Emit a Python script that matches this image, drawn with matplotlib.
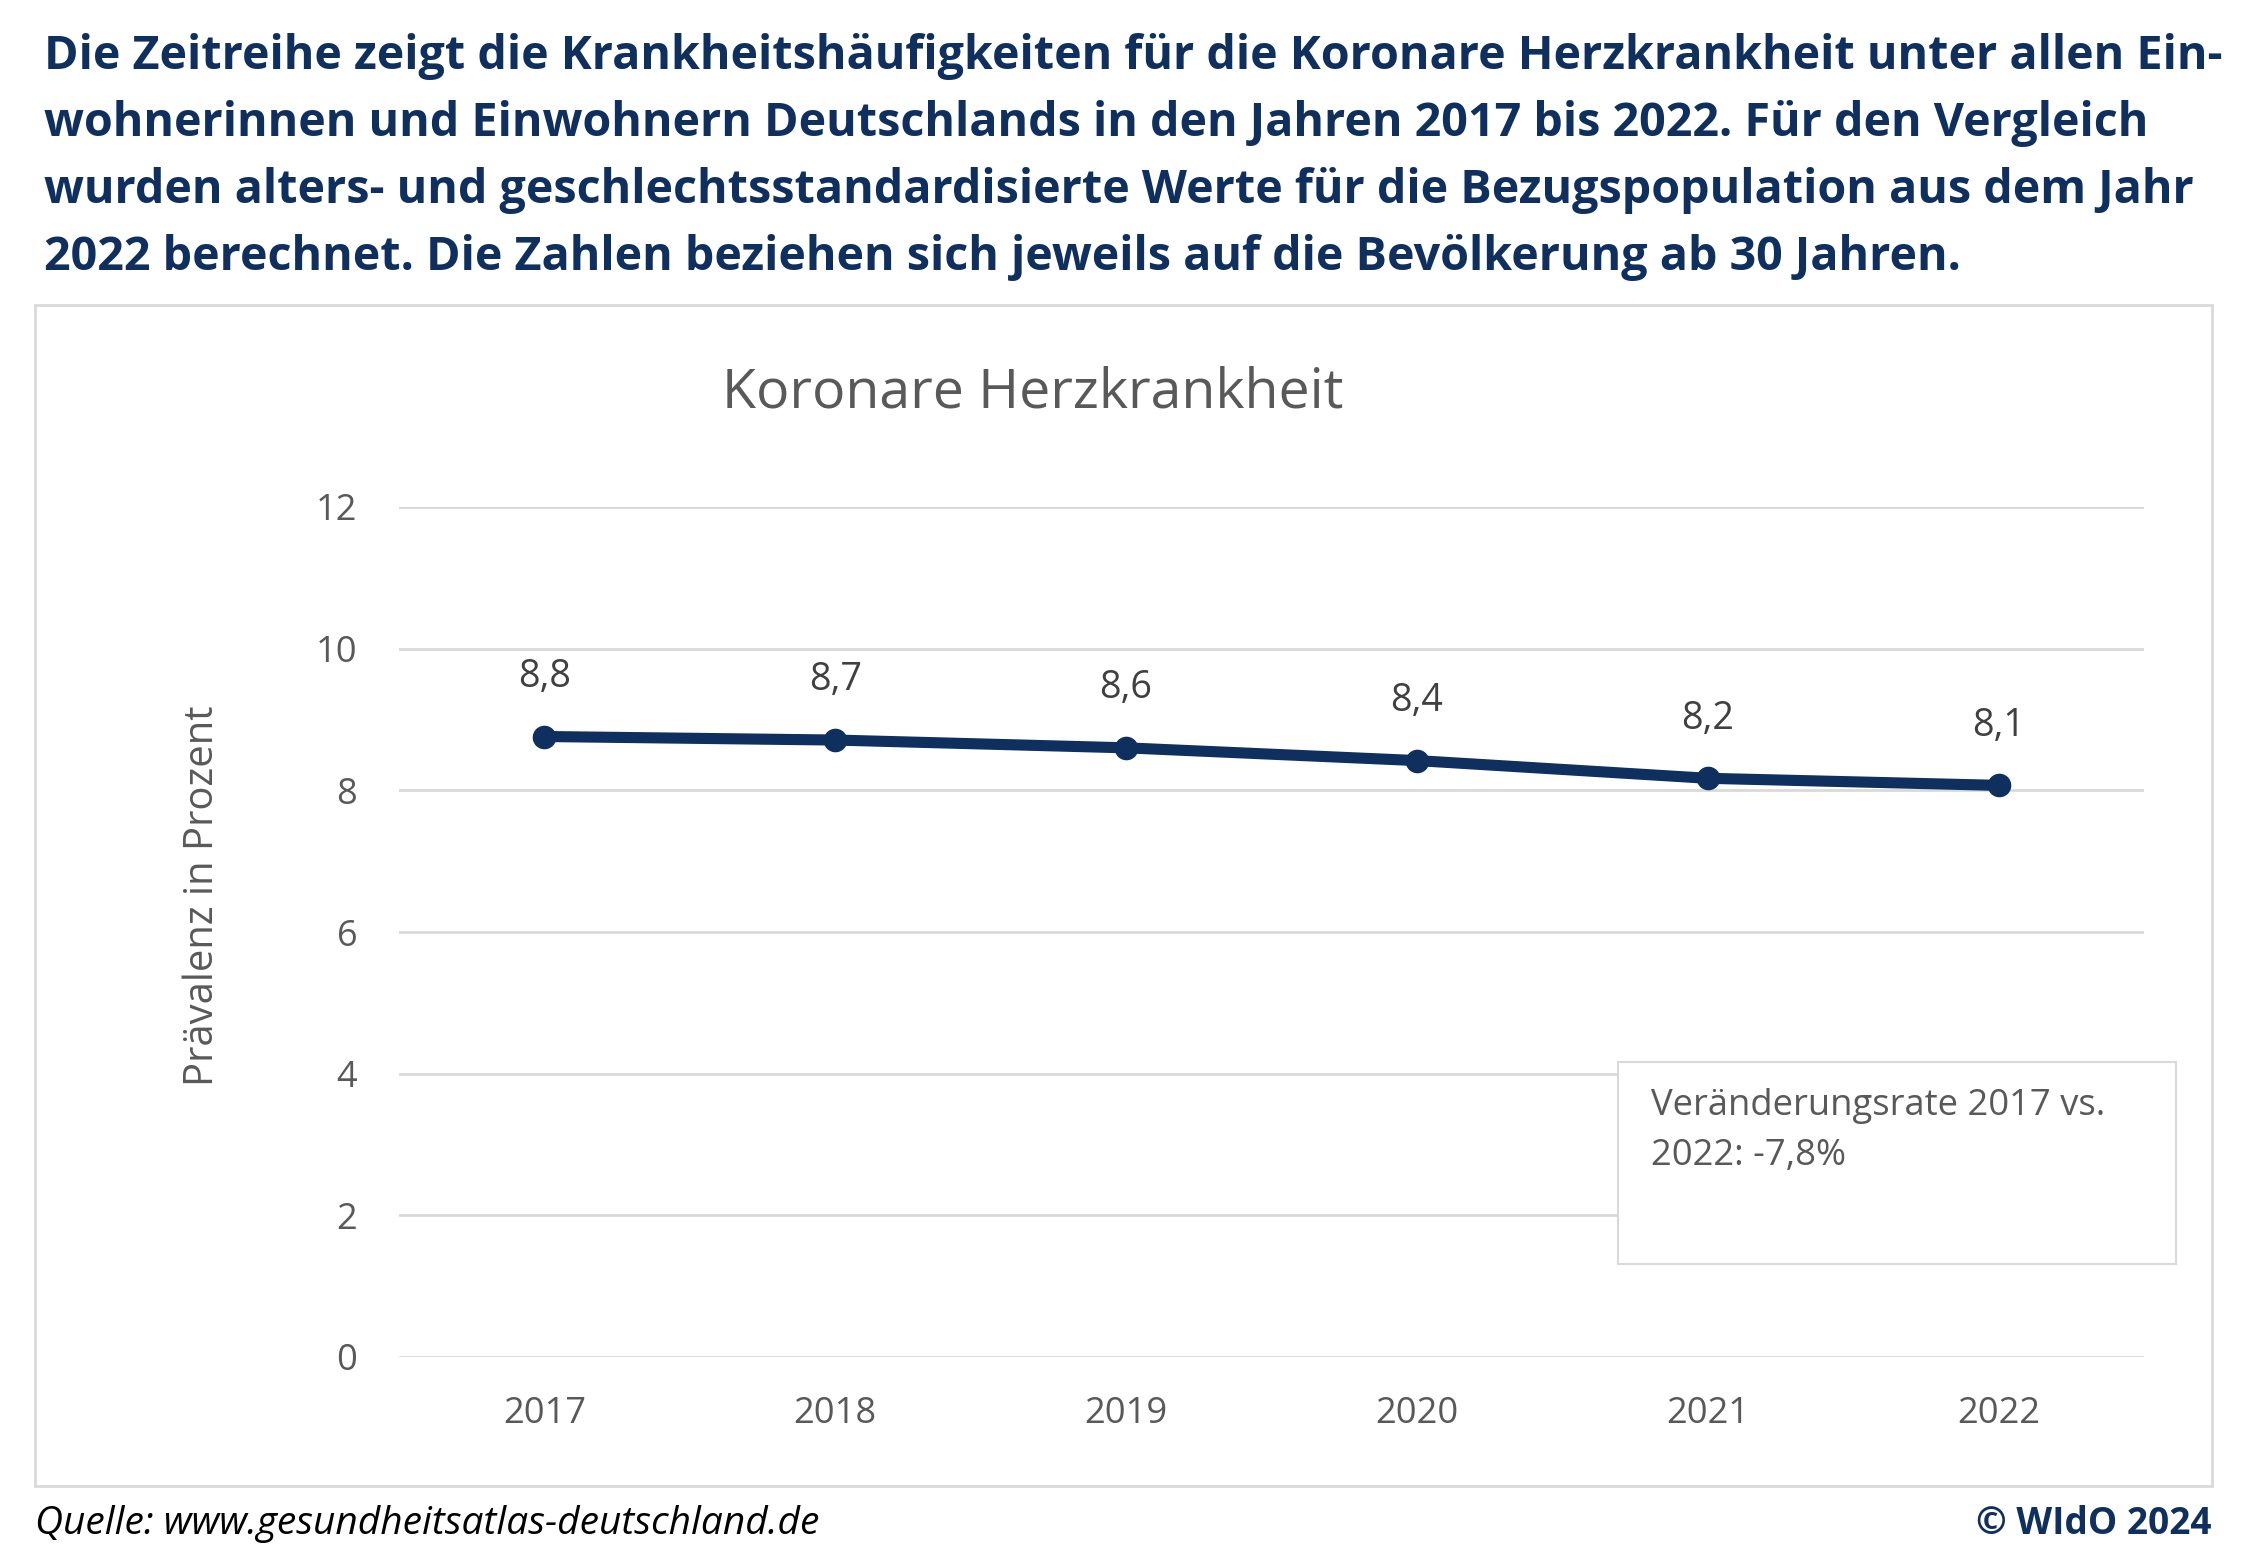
import matplotlib
matplotlib.use("Agg")
import matplotlib.pyplot as plt
from matplotlib.patches import Rectangle

# ---- data ----
years = ["2017", "2018", "2019", "2020", "2021", "2022"]
prevalence = [8.76, 8.71, 8.60, 8.42, 8.17, 8.07]
value_labels = ["8,8", "8,7", "8,6", "8,4", "8,2", "8,1"]
y_ticks = [0, 2, 4, 6, 8, 10, 12]
header_lines = [
    "Die Zeitreihe zeigt die Krankheitshäufigkeiten für die Koronare Herzkrankheit unter allen Ein-",
    "wohnerinnen und Einwohnern Deutschlands in den Jahren 2017 bis 2022. Für den Vergleich",
    "wurden alters- und geschlechtsstandardisierte Werte für die Bezugspopulation aus dem Jahr",
    "2022 berechnet. Die Zahlen beziehen sich jeweils auf die Bevölkerung ab 30 Jahren.",
]
chart_title = "Koronare Herzkrankheit"
y_label = "Prävalenz in Prozent"
note_lines = ["Veränderungsrate 2017 vs.", "2022: -7,8%"]
source = "Quelle: www.gesundheitsatlas-deutschland.de"
copyright_txt = "© WIdO 2024"

W, H = 2262, 1556
DPI = 100
FONT = ["Open Sans", "DejaVu Sans"]
plt.rcParams["font.family"] = FONT

NAVY = "#0f2f5e"
GREY = "#595959"
GRID = "#d9d9d9"

fig = plt.figure(figsize=(W / DPI, H / DPI), dpi=DPI)
fig.patch.set_facecolor("white")

def fx(px):
    return px / W

def fy(py):
    return 1 - py / H

renderer = fig.canvas.get_renderer()

def fit(t, target_w, vertical=False):
    for _ in range(3):
        bb = t.get_window_extent(renderer)
        cur = bb.height if vertical else bb.width
        t.set_fontsize(t.get_fontsize() * target_w / cur)

# header
hdr = []
for i, line in enumerate(header_lines):
    t = fig.text(fx(44), fy(56 + i * 67.3), line, fontsize=28, fontweight="bold",
                 color=NAVY, ha="left", va="center")
    hdr.append(t)
fit(hdr[0], 2174)
for t in hdr[1:]:
    t.set_fontsize(hdr[0].get_fontsize())

# chart frame
fig.patches.append(Rectangle((fx(35), fy(1486)), fx(2212) - fx(35), fy(305) - fy(1486),
                             transform=fig.transFigure, facecolor="none",
                             edgecolor=GRID, linewidth=2, zorder=0))

# chart title
ct = fig.text(fx(1033), fy(393), chart_title, fontsize=30, color=GREY, ha="center", va="center")
fit(ct, 622)

# axes
ax = fig.add_axes([fx(399), fy(1357), fx(2144) - fx(399), fy(507) - fy(1357)])
ax.set_facecolor("none")
x = list(range(len(years)))
ax.plot(x, prevalence, color=NAVY, linewidth=8, marker="o", markersize=16,
        solid_capstyle="round", zorder=3)
ax.set_xlim(-0.5, len(years) - 0.5)
ax.set_ylim(0, 12)
ax.set_yticks(y_ticks)
ax.set_yticklabels([str(v) for v in y_ticks])
ax.set_xticks(x)
ax.set_xticklabels(years)
for s in ax.spines.values():
    s.set_visible(False)
ax.grid(axis="y", color=GRID, linewidth=2)
ax.set_axisbelow(True)
ax.tick_params(axis="both", length=0, labelsize=21, labelcolor=GREY)

fig.canvas.draw()
xt = ax.get_xticklabels()[0]
scale = 83 / xt.get_window_extent(renderer).width
tick_fs = 21 * scale
ax.tick_params(axis="both", labelsize=tick_fs)
ax.tick_params(axis="y", pad=30)
ax.tick_params(axis="x", pad=28)

dl = []
for xi, v, lab in zip(x, prevalence, value_labels):
    t = ax.annotate(lab, (xi, v), xytext=(0, 43), textcoords="offset points",
                    ha="center", va="center", fontsize=21, color="#404040")
    dl.append(t)
fit(dl[0], 53)
for t in dl[1:]:
    t.set_fontsize(dl[0].get_fontsize())

yl = fig.text(fx(203), fy(896), y_label, rotation=90, fontsize=22, color=GREY,
              ha="center", va="center")
fit(yl, 381, vertical=True)

# note box
fig.patches.append(Rectangle((fx(1618), fy(1264)), fx(2176) - fx(1618), fy(1062) - fy(1264),
                             transform=fig.transFigure, facecolor="white",
                             edgecolor=GRID, linewidth=1.5, zorder=5))
n1 = fig.text(fx(1651), fy(1106), note_lines[0], fontsize=22, color=GREY,
              ha="left", va="center", zorder=6)
n2 = fig.text(fx(1651), fy(1156), note_lines[1], fontsize=22, color=GREY,
              ha="left", va="center", zorder=6)
fit(n1, 454)
n2.set_fontsize(n1.get_fontsize())

# footer
src = fig.text(fx(35), fy(1524), source, fontsize=22, style="italic", color="black",
               ha="left", va="center")
fit(src, 782)
cp = fig.text(fx(2212), fy(1524), copyright_txt, fontsize=22, fontweight="bold", color=NAVY,
              ha="right", va="center")
fit(cp, 235)

fig.savefig("out.png", dpi=DPI, facecolor="white")
